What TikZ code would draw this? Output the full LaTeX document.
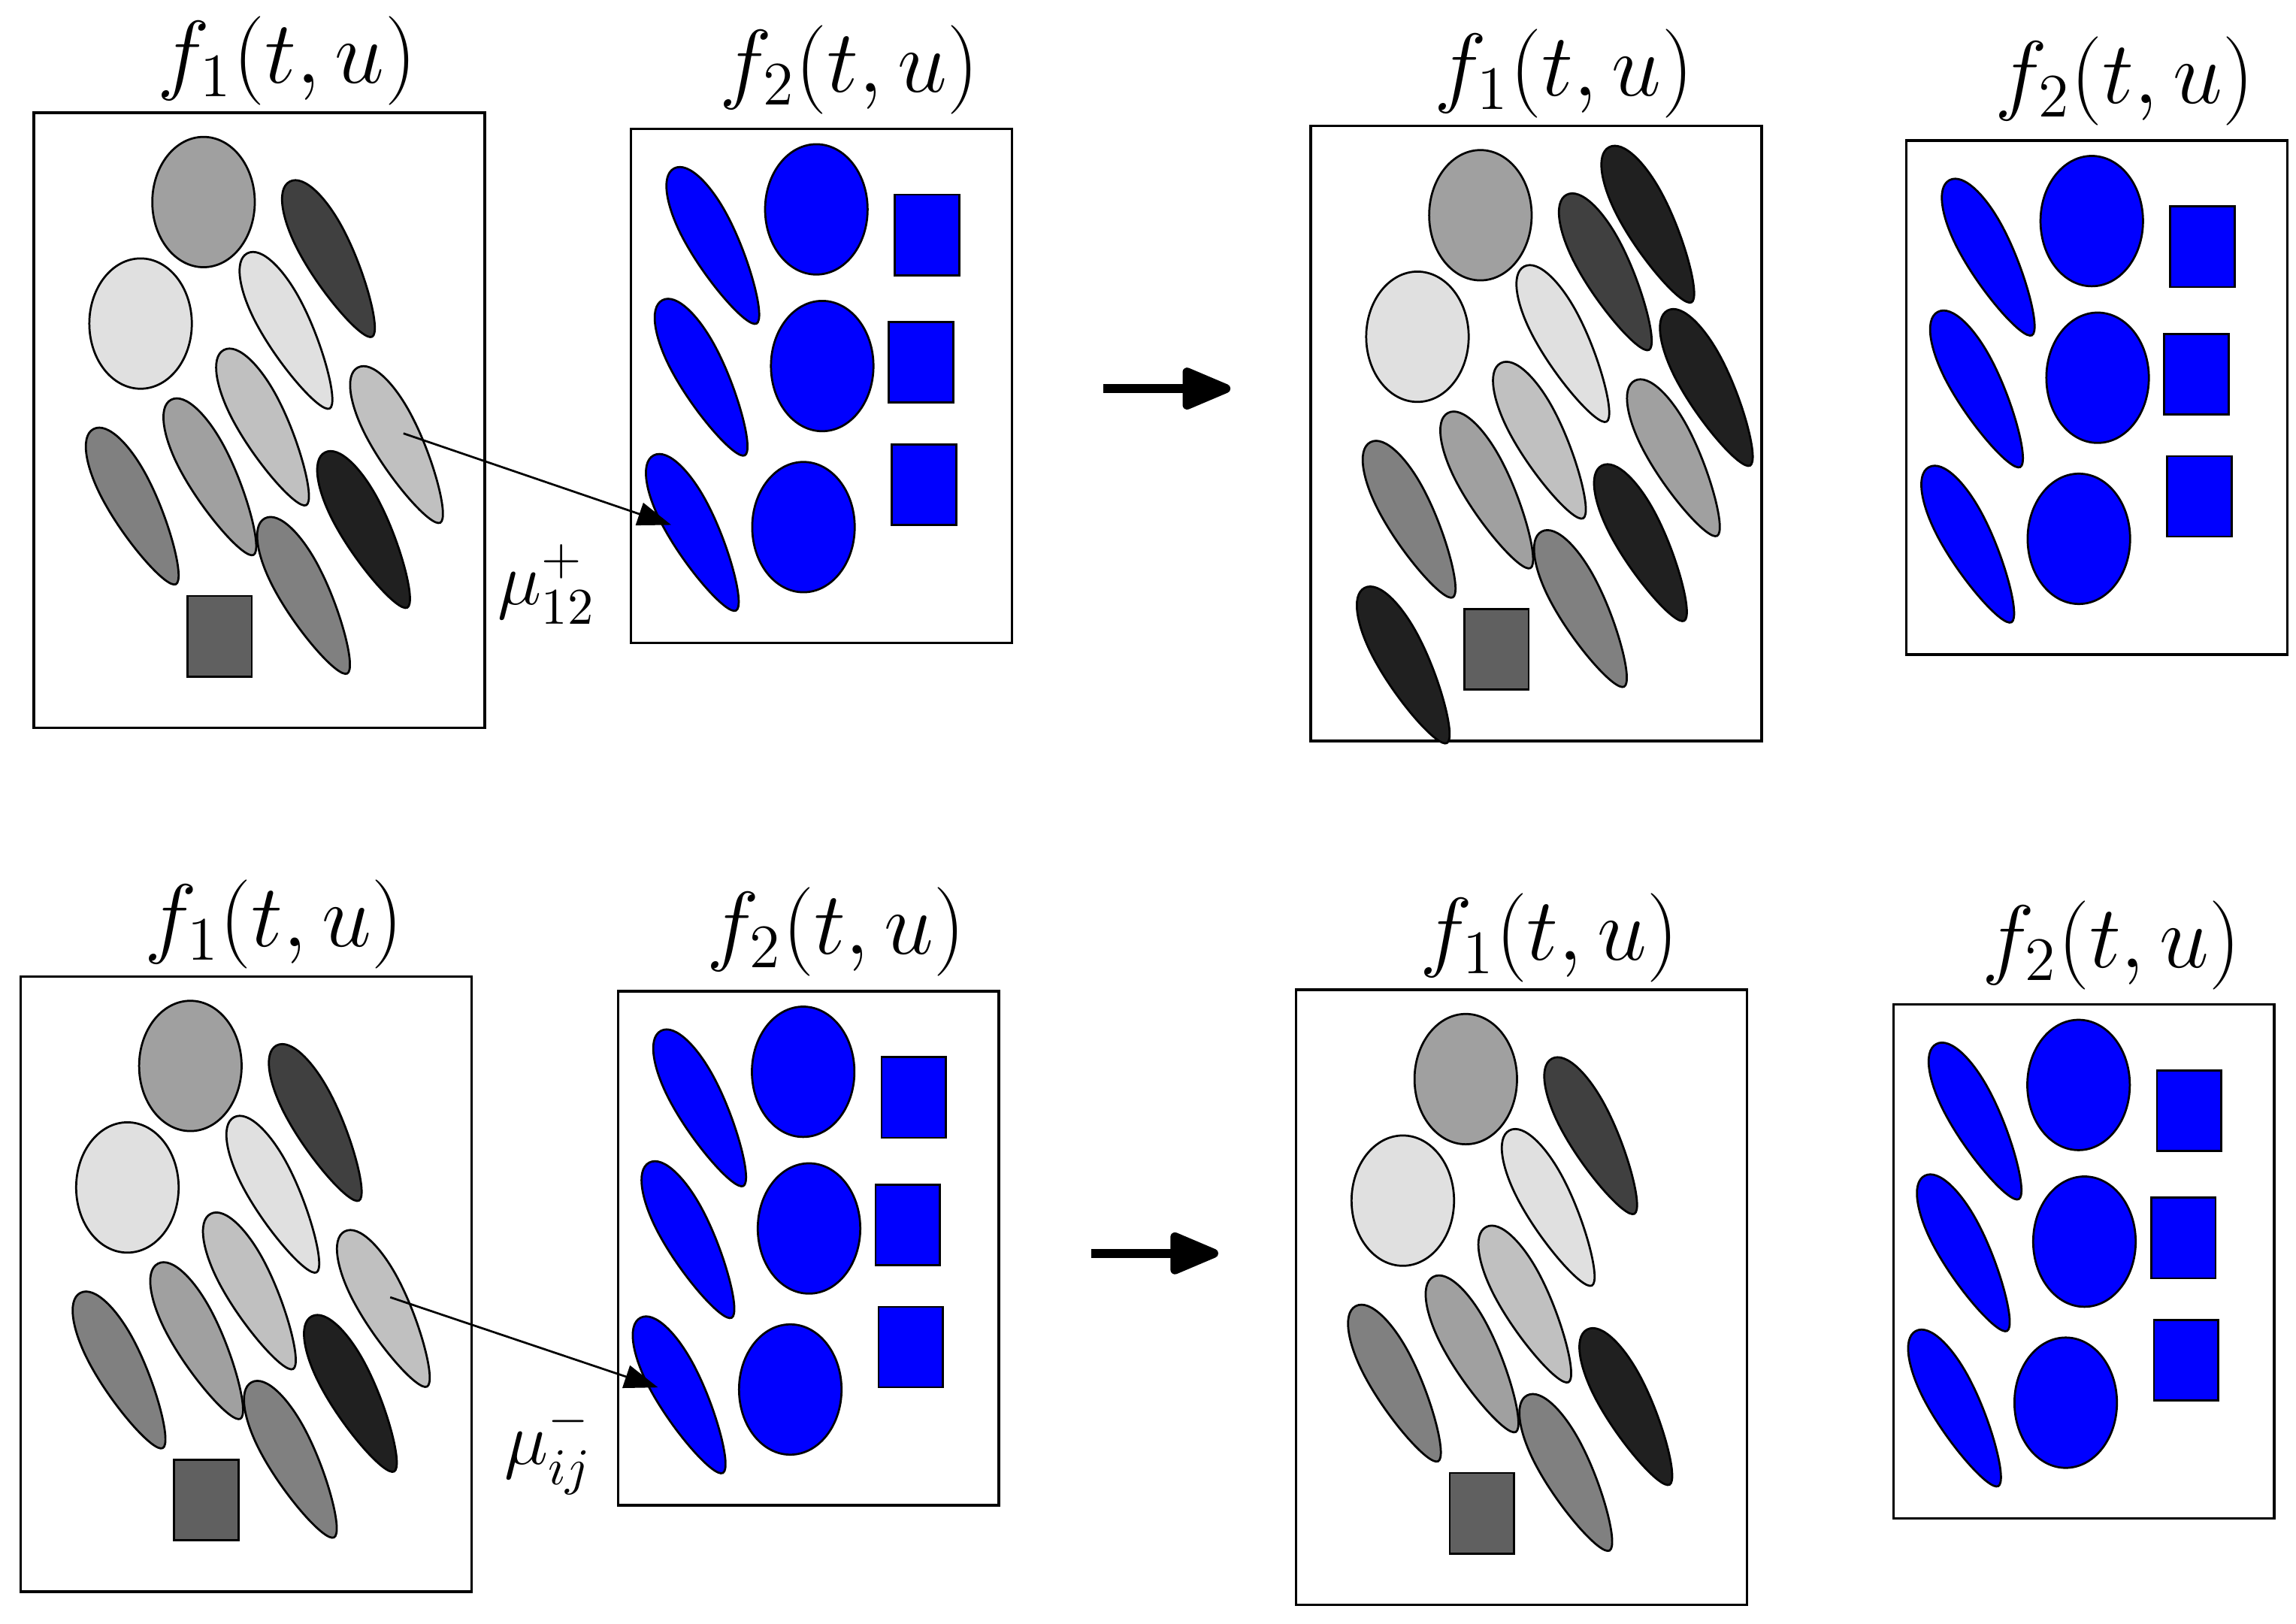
\documentclass[tikz,border=0pt]{standalone}
\usepackage{xcolor}
\usepackage{tikz}
\usepackage{amsmath}
\definecolor{greyE}{RGB}{224,224,224}
\definecolor{greyC}{RGB}{192,192,192}
\definecolor{greyA}{RGB}{160,160,160}
\definecolor{grey8}{RGB}{128,128,128}
\definecolor{grey6}{RGB}{96,96,96}
\definecolor{grey4}{RGB}{64,64,64}
\definecolor{grey2}{RGB}{32,32,32}
\definecolor{markblue}{RGB}{0,0,255}
\usetikzlibrary{shapes.geometric, arrows.meta, positioning, calc}

\begin{document}
\begin{tikzpicture}[
    panel/.style={draw, line width=0.5pt, minimum width=3.08cm, minimum height=4.2cm, inner sep=0pt, outer sep=0pt, anchor=north west},
    gpanel/.style={panel, minimum width=2.6cm, minimum height=3.51cm},
    fname/.style={font=\LARGE, inner sep=0pt},
    blob/.style={ellipse, draw, minimum width=0.7cm, minimum height=0.89cm, inner sep=0pt},
    cube/.style={rectangle, draw, minimum width=0.44cm, minimum height=0.55cm, inner sep=0pt},
    mapto/.style={-{Triangle[length=0.23cm, width=0.16cm]}, line width=0.4pt, shorten >=0.17cm},
    bigarrow/.style={-{Triangle[length=0.38cm, width=0.3cm, round]}, line width=1.75pt},
    pics/drop/.style={code={
        \draw[fill=#1, rotate=28] (0,0.6) .. controls (0.11,0.6) and (0.175,0.38) .. (0.17,0.12)
            .. controls (0.165,-0.2) and (0.07,-0.6) .. (0,-0.6)
            .. controls (-0.07,-0.6) and (-0.165,-0.2) .. (-0.17,0.12)
            .. controls (-0.175,0.38) and (-0.11,0.6) .. (0,0.6) -- cycle;
        \coordinate (-c) at (0,0);
    }}
]
    \useasboundingbox (0,0) rectangle (15.68,-11.09);

    % top row
    \node[panel] (boxA) at (0.23,-0.77) {};
    \node[gpanel] (boxB) at (4.31,-0.88) {};
    \node[panel] (boxC) at (8.95,-0.86) {};
    \node[gpanel] (boxD) at (13.02,-0.96) {};
    % bottom row
    \node[panel] (boxE) at (0.14,-6.67) {};
    \node[gpanel] (boxF) at (4.22,-6.77) {};
    \node[panel] (boxG) at (8.85,-6.76) {};
    \node[gpanel] (boxH) at (12.93,-6.86) {};

    \foreach \b in {A,C,E,G}
        \node[fname, above=0.045cm of box\b, xshift=0.19cm] (name\b) {$f_1(t,u)$};
    \foreach \b in {B,D,F,H}
        \node[fname, above=0.095cm of box\b, xshift=0.19cm] (name\b) {$f_2(t,u)$};

    % grey blobs
    \foreach \b in {A,C,E,G} {
        \begin{scope}[shift={(box\b.north west)}]
            \node[blob, fill=greyA] (top\b) at (1.16,-0.61) {};
            \node[blob, fill=greyE] (pale\b) at (0.73,-1.44) {};
            \foreach \x/\y/\c in {2.03/-1.00/grey4, 1.74/-1.49/greyE, 1.58/-2.15/greyC, 0.69/-2.69/grey8,
                                  1.22/-2.49/greyA, 2.27/-2.85/grey2, 1.86/-3.30/grey8}
                \pic at (\x,\y) {drop=\c};
            \node[cube, fill=grey6] (sq\b) at (1.27,-3.575) {};
        \end{scope}
    }
    \pic (srcA) at ($(boxA.north west)+(2.495,-2.27)$) {drop=greyC};
    \pic (srcE) at ($(boxE.north west)+(2.495,-2.27)$) {drop=greyC};
    \pic (bornC) at ($(boxC.north west)+(2.495,-2.27)$) {drop=greyA};
    \foreach \x/\y in {2.32/-0.675, 2.72/-1.79, 0.65/-3.685}
        \pic at ($(boxC.north west)+(\x,\y)$) {drop=grey2};

    % blue blobs
    \foreach \b in {B,D,F,H} {
        \begin{scope}[shift={(box\b.north west)}]
            \foreach \x/\y in {1.265/-0.55, 1.305/-1.62, 1.177/-2.72}
                \node[blob, fill=markblue] at (\x,\y) {};
            \foreach \x/\y in {2.02/-0.725, 1.98/-1.595, 2.00/-2.43}
                \node[cube, fill=markblue] at (\x,\y) {};
            \foreach \x/\y in {0.575/-0.80, 0.495/-1.70}
                \pic at (\x,\y) {drop=markblue};
            \pic (dst\b) at (0.435,-2.76) {drop=markblue};
        \end{scope}
    }

    \draw[mapto] ($(srcA-c)+(0.03,0.08)$) -- (dstB-c);
    \draw[mapto] ($(srcE-c)+(0.03,0.08)$) -- (dstF-c);
    \node[font=\Large] (muA) at (3.735,-3.99) {$\mu_{12}^{+}$};
    \node[font=\Large] (muE) at (3.745,-9.90) {$\mu_{ij}^{-}$};

    \coordinate (goA) at (7.536,-2.654);
    \coordinate (toA) at (8.403,-2.654);
    \coordinate (goE) at (7.45,-8.56);
    \coordinate (toE) at (8.32,-8.56);
    \draw[bigarrow] (goA) -- (toA);
    \draw[bigarrow] (goE) -- (toE);
\end{tikzpicture}
\end{document}
